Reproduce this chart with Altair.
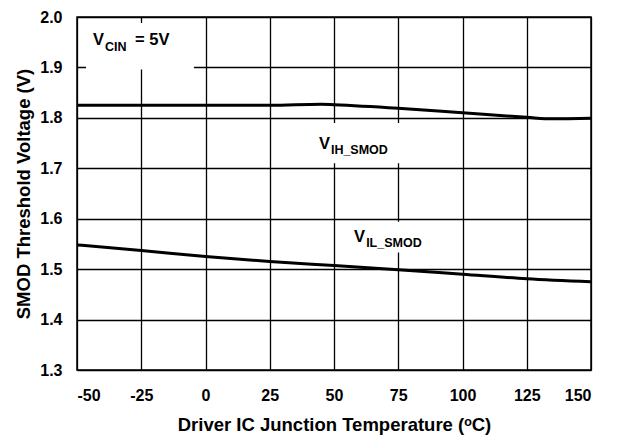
import altair as alt
import pandas as pd

# Data
temps = [-50, -25, 0, 25, 45, 50, 75, 100, 125, 135, 150]
vih = [1.825, 1.825, 1.825, 1.825, 1.827, 1.826, 1.819, 1.810, 1.801, 1.798, 1.799]
temps_il = [-50, -25, 0, 25, 50, 75, 100, 125, 150]
vil = [1.548, 1.537, 1.525, 1.515, 1.507, 1.499, 1.490, 1.481, 1.475]

x_ticks = [-50, -25, 0, 25, 50, 75, 100, 125, 150]
y_ticks = [1.3, 1.4, 1.5, 1.6, 1.7, 1.8, 1.9, 2.0]

# annotation label pieces (text, x, y, font size)
label_text = ["V", "CIN", "= 5V", "V", "IH_SMOD", "V", "IL_SMOD"]
label_x = [-43.8, -39.1, -27.4, 44.2, 48.8, 57.8, 62.5]
label_y = [1.945, 1.932, 1.945, 1.739, 1.729, 1.553, 1.543]
label_size = [16.5, 12.5, 16.5, 16.5, 12.5, 16.5, 12.5]

# white backgrounds behind labels (x1, x2, y1, y2)
box_x1 = [-46.5, 40.7, 54.3]
box_x2 = [-4.5, 77.6, 85.4]
box_y1 = [1.896, 1.71, 1.533]
box_y2 = [1.988, 1.79, 1.594]

lines = pd.DataFrame(
    {"t": temps + temps_il,
     "v": vih + vil,
     "s": ["VIH"] * len(temps) + ["VIL"] * len(temps_il)}
)
labels = pd.DataFrame({"text": label_text, "x": label_x, "y": label_y, "size": label_size})
boxes = pd.DataFrame({"x1": box_x1, "x2": box_x2, "y1": box_y1, "y2": box_y2})

xs = alt.Scale(domain=[-50, 150], nice=False, zero=False)
ys = alt.Scale(domain=[1.3, 2.0], nice=False, zero=False)

FONT = "Liberation Sans"

xaxis = alt.Axis(values=x_ticks, title="Driver IC Junction Temperature (ᵒC)", grid=True,
                 labelPadding=17, titlePadding=12, labelExpr="'' + datum.value")
yaxis = alt.Axis(values=y_ticks, title="SMOD Threshold Voltage (V)", grid=True,
                 labelPadding=15, titlePadding=6, format=".1f")

box_layer = alt.Chart(boxes).mark_rect(color="white").encode(
    x=alt.X("x1:Q", scale=xs, axis=xaxis), x2="x2:Q",
    y=alt.Y("y1:Q", scale=ys, axis=yaxis), y2="y2:Q",
)

line_layer = alt.Chart(lines).mark_line(color="black", strokeWidth=3, interpolate="monotone").encode(
    x=alt.X("t:Q", scale=xs, axis=xaxis),
    y=alt.Y("v:Q", scale=ys, axis=yaxis),
    detail="s:N",
)

text_layer = alt.Chart(labels).mark_text(
    align="left", baseline="alphabetic", font=FONT, fontWeight="bold", color="black"
).encode(
    x=alt.X("x:Q", scale=xs, axis=xaxis),
    y=alt.Y("y:Q", scale=ys, axis=yaxis),
    text="text:N",
    size=alt.Size("size:Q", scale=None, legend=None),
)

chart = alt.layer(box_layer, line_layer, text_layer).properties(
    width=514, height=353,
    autosize=alt.AutoSizeParams(type="none"),
    padding={"left": 69, "top": 9, "right": 20, "bottom": 66},
).configure_view(
    stroke="black", strokeWidth=1.5
).configure_axis(
    domain=False, ticks=False, gridColor="black", gridOpacity=1, gridWidth=1.3,
    labelFont=FONT, labelFontWeight="bold", labelFontSize=16, labelColor="black",
    titleFont=FONT, titleFontWeight="bold", titleFontSize=18.5, titleColor="black",
)

chart.save("out.html", embed_options={"renderer": "svg", "actions": False})
